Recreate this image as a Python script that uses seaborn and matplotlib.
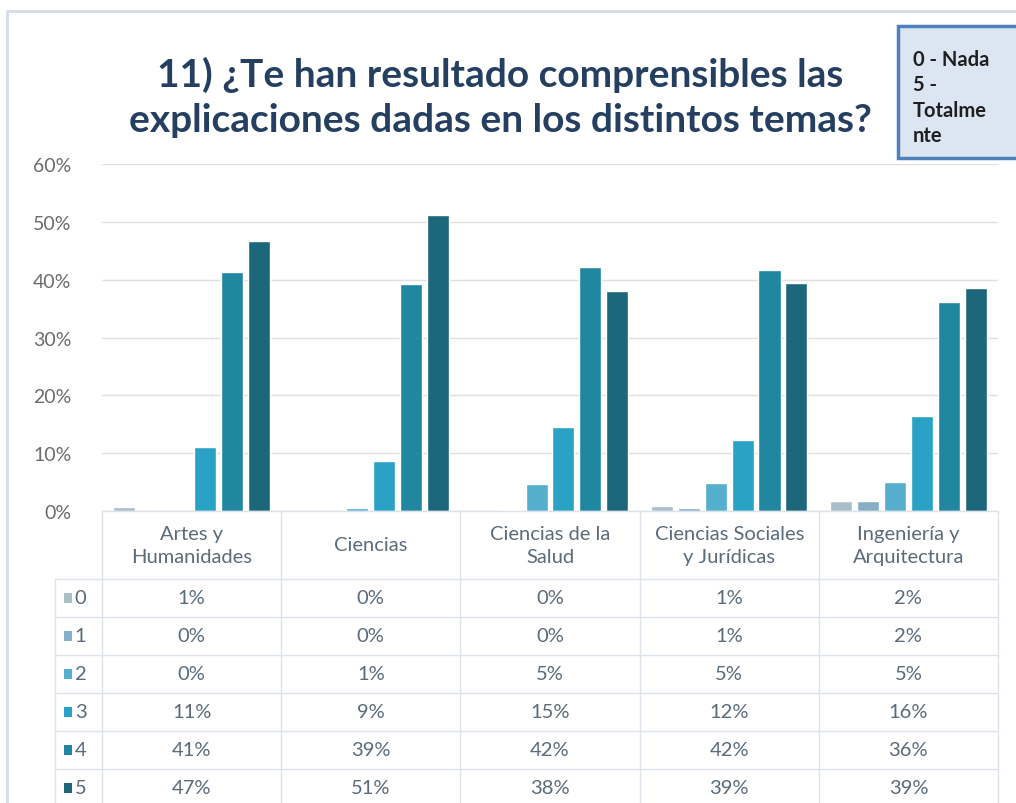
import numpy as np
import pandas as pd
import matplotlib
matplotlib.use('Agg')
import matplotlib.pyplot as plt
import matplotlib.transforms as mtransforms
from matplotlib.patches import Rectangle
import seaborn as sns

# ------------------------
# Datos
# ------------------------
categorias = ["Artes y\nHumanidades", "Ciencias", "Ciencias de la\nSalud",
              "Ciencias Sociales\ny Jurídicas", "Ingeniería y\nArquitectura"]
niveles = ["0", "1", "2", "3", "4", "5"]
v0 = [0.7, 0.0, 0.0, 0.8, 1.7]
v1 = [0.0, 0.0, 0.2, 0.6, 1.7]
v2 = [0.0, 0.6, 4.7, 4.8, 5.1]
v3 = [11.1, 8.7, 14.6, 12.2, 16.4]
v4 = [41.4, 39.2, 42.2, 41.6, 36.1]
v5 = [46.6, 51.2, 38.1, 39.4, 38.6]
ticks_y = [0, 10, 20, 30, 40, 50, 60]
titulo = "11) ¿Te han resultado comprensibles las\nexplicaciones dadas en los distintos temas?"
nota = "0 - Nada\n5 -\nTotalme\nnte"

colores = ["#A9BEC9", "#86AEC4", "#55AECB", "#2AA2C6", "#21869F", "#1C6779"]

series = [v0, v1, v2, v3, v4, v5]
filas = []
for nivel, vals in zip(niveles, series):
    for cat, v in zip(categorias, vals):
        filas.append({"categoria": cat, "nivel": nivel, "valor": v})
df = pd.DataFrame(filas)

# ------------------------
# Figura
# ------------------------
sns.set_theme(style="white")
plt.rcParams['font.family'] = ['Lato', 'DejaVu Sans']
W, H = 1016, 804
fig = plt.figure(figsize=(W / 100, H / 100), dpi=100)
fig.patch.set_facecolor("white")

ax_left, ax_right, ax_top, ax_bottom = 102, 998, 165, 512
ax = fig.add_axes([ax_left / W, 1 - ax_bottom / H, (ax_right - ax_left) / W, (ax_bottom - ax_top) / H])

sns.barplot(data=df, x="categoria", y="valor", hue="nivel", palette=colores,
            width=0.9, gap=0.18, ax=ax, legend=False, saturation=1)

ax.set_xlim(-0.5, 4.5)
ax.set_ylim(0, 60)
ax.set_yticks(ticks_y)
ax.set_yticklabels([f"{t}%" for t in ticks_y], fontsize=14, color="#6B6B6B")
ax.tick_params(axis="y", length=0, pad=22)
ax.set_xticks([])
ax.set_xlabel("")
ax.set_ylabel("")
ax.yaxis.grid(True, color="#E0E0E0", linewidth=1)
ax.set_axisbelow(True)
for s in ax.spines.values():
    s.set_visible(False)

# marco exterior
fig.add_artist(plt.Line2D([7 / W, 7 / W], [0, 1 - 12 / H], transform=fig.transFigure,
                          color="#D5DDEA", linewidth=2))
fig.add_artist(plt.Line2D([7 / W, 1], [1 - 12 / H, 1 - 12 / H], transform=fig.transFigure,
                          color="#D5DDEA", linewidth=2))

# título
fig.text(500 / W, 1 - 97 / H, titulo, ha="center", va="center", fontsize=28,
         fontweight="bold", color="#243F60", linespacing=1.35)

# nota (cuadro)
fig.add_artist(Rectangle((898 / W, 1 - 159 / H), 130 / W, 132 / H, transform=fig.transFigure,
                         facecolor="#DCE6F2", edgecolor="#4F81BD", linewidth=2.5, clip_on=False))
fig.text(913 / W, 1 - 98 / H, nota, ha="left", va="center", fontsize=14.5,
         fontweight="bold", color="#1F1F1F", linespacing=1.35)

# ------------------------
# Tabla de datos
# ------------------------
trans = mtransforms.blended_transform_factory(ax.transData, fig.transFigure)
def fy(px):
    return 1 - px / H

linea = "#DCE3EA"
txt = "#5A6B7B"
cab_top, cab_bot = 512, 580
alto = 38
fila_top = [cab_bot + i * alto for i in range(6)]
x_leyenda = -0.5 - 47 / (ax_right - ax_left) * 5

# lineas verticales
for xb in np.arange(-0.5, 5.0, 1.0):
    fig.add_artist(plt.Line2D([xb, xb], [fy(cab_top), 0], transform=trans, color=linea, linewidth=1))
# lineas horizontales
fig.add_artist(plt.Line2D([-0.5, 4.5], [fy(cab_top), fy(cab_top)], transform=trans, color=linea, linewidth=1))
for t in fila_top:
    fig.add_artist(plt.Line2D([x_leyenda, 4.5], [fy(t), fy(t)], transform=trans, color=linea, linewidth=1))
fig.add_artist(plt.Line2D([x_leyenda, x_leyenda], [fy(cab_bot), 0], transform=trans, color=linea, linewidth=1))

# cabeceras
for i, cat in enumerate(categorias):
    fig.text(i, fy((cab_top + cab_bot) / 2), cat, transform=trans, ha="center", va="center",
             fontsize=14.5, color=txt, linespacing=1.45)

# filas
for j, (nivel, vals) in enumerate(zip(niveles, series)):
    yc = fy(fila_top[j] + alto / 2)
    fig.add_artist(Rectangle((x_leyenda + 0.048, yc - 5 / H), 0.045, 10 / H, transform=trans,
                             facecolor=colores[j], edgecolor="none", clip_on=False))
    fig.text(x_leyenda + 0.11, yc, nivel, transform=trans, ha="left", va="center",
             fontsize=14.5, color=txt)
    for i, v in enumerate(vals):
        fig.text(i, yc, f"{int(round(v))}%", transform=trans, ha="center", va="center",
                 fontsize=14.5, color=txt)

fig.savefig("out.png", dpi=100)
